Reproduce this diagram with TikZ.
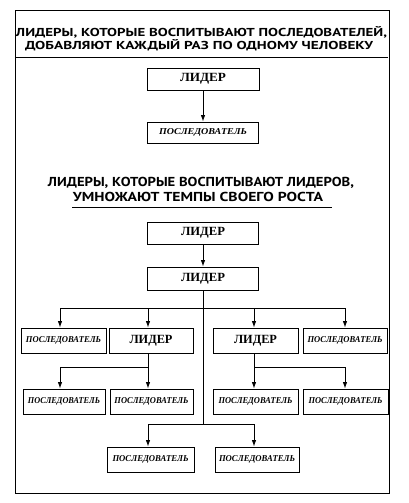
\documentclass[tikz,border=0pt]{standalone}
\usepackage{fontspec}
\usepackage{graphicx}
\setmainfont{Liberation Serif}
\newfontfamily\titlefont{PT Sans}
\usetikzlibrary{arrows.meta}
\newcommand{\fitw}[2]{\resizebox{#1}{\height}{#2}}
\tikzset{
  box/.style={draw, line width=0.9pt, inner sep=0pt, anchor=center},
  ldr/.style={box, font=\bfseries\fontsize{12.5}{14}\selectfont},
  fol/.style={box, font=\bfseries\itshape\fontsize{9}{11}\selectfont},
  ttl/.style={inner sep=0pt, anchor=center, font=\titlefont\bfseries},
  ln/.style={line width=0.9pt},
  arr/.style={line width=0.9pt, -{Latex[length=6.5pt,width=4.5pt]}},
}
\begin{document}
\begin{tikzpicture}[x=1pt, y=-1pt]
\useasboundingbox (0,0) rectangle (409,503);
\fill[white] (0,0) rectangle (409,503);
% frame and rules
\draw[line width=1pt] (15,11) rectangle (389,493);
\draw[ln] (15,57) -- (388,57);
\draw[ln] (72,207) -- (332,207);
% titles
\node[ttl, font=\titlefont\bfseries\fontsize{11.5}{13}\selectfont] (t1a) at (201.5,32) {\fitw{371pt}{ЛИДЕРЫ, КОТОРЫЕ ВОСПИТЫВАЮТ ПОСЛЕДОВАТЕЛЕЙ,}};
\node[ttl, font=\titlefont\bfseries\fontsize{11.5}{13}\selectfont] (t1b) at (199,45.5) {\fitw{348pt}{ДОБАВЛЯЮТ КАЖДЫЙ РАЗ ПО ОДНОМУ ЧЕЛОВЕКУ}};
\node[ttl, font=\titlefont\bfseries\fontsize{13}{15}\selectfont] (t2a) at (201,183) {\fitw{306pt}{ЛИДЕРЫ, КОТОРЫЕ ВОСПИТЫВАЮТ ЛИДЕРОВ,}};
\node[ttl, font=\titlefont\bfseries\fontsize{13}{15}\selectfont] (t2b) at (198,197) {\fitw{250pt}{УМНОЖАЮТ ТЕМПЫ СВОЕГО РОСТА}};
% top section
\node[ldr, minimum width=112pt, minimum height=22pt] (L1) at (203,79) {\fitw{46pt}{ЛИДЕР}};
\node[fol, minimum width=111pt, minimum height=21pt] (F1) at (203,132.5) {\fitw{88pt}{ПОСЛЕДОВАТЕЛЬ}};
\draw[arr] (L1) -- (F1);
% second section
\node[ldr, minimum width=111pt, minimum height=22pt] (L2) at (203,233) {\fitw{44pt}{ЛИДЕР}};
\node[ldr, minimum width=111pt, minimum height=23pt] (L3) at (203,278.5) {\fitw{44pt}{ЛИДЕР}};
\draw[arr] (L2) -- (L3);
% row 1
\node[fol, minimum width=85pt, minimum height=25pt] (Fa) at (63.5,340.5) {\fitw{75pt}{ПОСЛЕДОВАТЕЛЬ}};
\node[ldr, minimum width=84pt, minimum height=25pt] (La) at (151,340.5) {\fitw{43pt}{ЛИДЕР}};
\node[ldr, minimum width=85pt, minimum height=25pt] (Lb) at (255.5,340.5) {\fitw{43pt}{ЛИДЕР}};
\node[fol, minimum width=84pt, minimum height=25pt] (Fb) at (345,340.5) {\fitw{75pt}{ПОСЛЕДОВАТЕЛЬ}};
% row 2
\node[fol, minimum width=82pt, minimum height=25pt] (Fc) at (64,401.5) {\fitw{72pt}{ПОСЛЕДОВАТЕЛЬ}};
\node[fol, minimum width=83pt, minimum height=25pt] (Fd) at (151.5,401.5) {\fitw{74pt}{ПОСЛЕДОВАТЕЛЬ}};
\node[fol, minimum width=85pt, minimum height=25pt] (Fe) at (255.5,401.5) {\fitw{74pt}{ПОСЛЕДОВАТЕЛЬ}};
\node[fol, minimum width=85pt, minimum height=25pt] (Ff) at (345.5,401.5) {\fitw{74pt}{ПОСЛЕДОВАТЕЛЬ}};
% row 3
\node[fol, minimum width=87pt, minimum height=25pt] (Fg) at (150.5,459.5) {\fitw{76pt}{ПОСЛЕДОВАТЕЛЬ}};
\node[fol, minimum width=84pt, minimum height=25pt] (Fh) at (257,459.5) {\fitw{76pt}{ПОСЛЕДОВАТЕЛЬ}};
% junction coordinates
\coordinate (b1) at (60,308);
\coordinate (b2) at (148,308);
\coordinate (b3) at (254,308);
\coordinate (b4) at (345,308);
\coordinate (c1) at (60,367);
\coordinate (c2) at (148,367);
\coordinate (c3) at (254,367);
\coordinate (c4) at (345,367);
\coordinate (d1) at (148,424);
\coordinate (d2) at (254,424);
% trunk from L3
\draw[ln] (L3.south) -- (L3.south |- d1);
\draw[ln] (b1) -- (b4);
\draw[arr] (b1) -- (b1 |- Fa.north);
\draw[arr] (b2) -- (b2 |- La.north);
\draw[arr] (b3) -- (b3 |- Lb.north);
\draw[arr] (b4) -- (b4 |- Fb.north);
% left leader
\draw[ln] (b2 |- La.south) -- (c2);
\draw[ln] (c1) -- (c2);
\draw[arr] (c1) -- (c1 |- Fc.north);
\draw[arr] (c2) -- (c2 |- Fd.north);
% right leader
\draw[ln] (b3 |- Lb.south) -- (c3);
\draw[ln] (c3) -- (c4);
\draw[arr] (c3) -- (c3 |- Fe.north);
\draw[arr] (c4) -- (c4 |- Ff.north);
% bottom pair
\draw[ln] (d1) -- (d2);
\draw[arr] (d1) -- (d1 |- Fg.north);
\draw[arr] (d2) -- (d2 |- Fh.north);
\end{tikzpicture}
\end{document}
